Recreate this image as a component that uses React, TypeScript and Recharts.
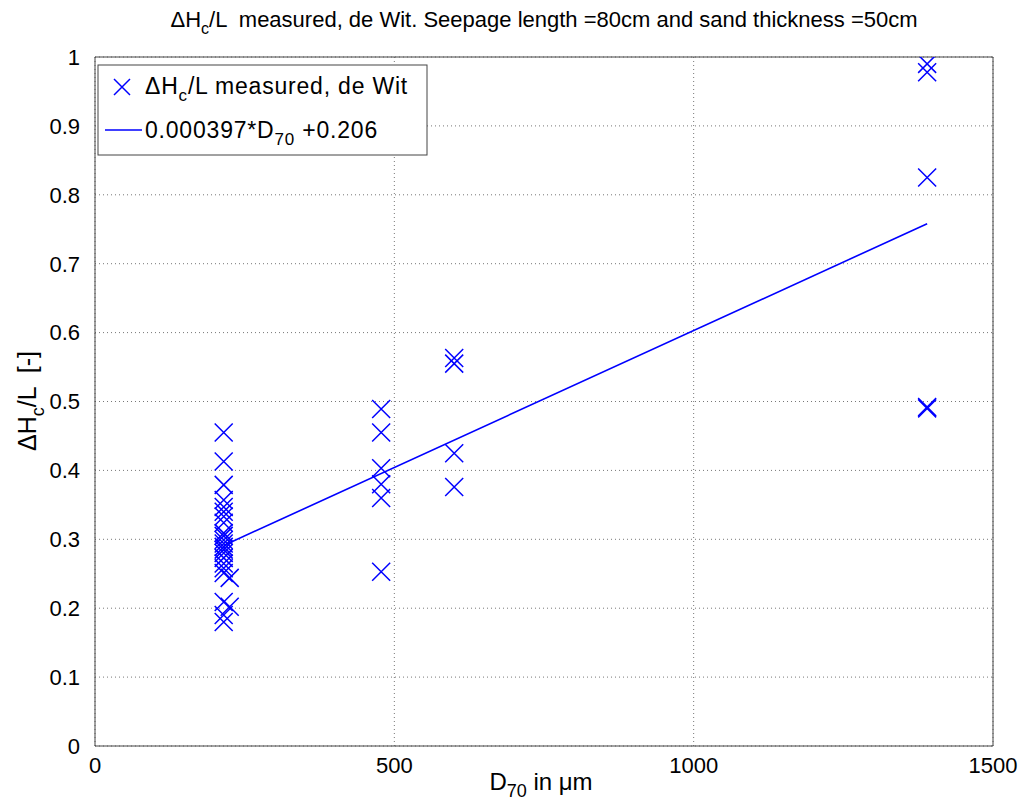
import { CartesianGrid, Scatter, ScatterChart, XAxis, YAxis } from 'recharts';

// measured critical gradients
const measuredD = [
  215, 215, 215, 215, 215, 215, 215, 215, 215, 215, 215, 215, 215, 215, 215, 215, 215, 215, 215, 215, 215, 215,
  225, 225,
  478, 478, 478, 478, 478, 478,
  600, 600, 600, 600,
  1390, 1390, 1390, 1390, 1390,
];
const measuredH = [
  0.455, 0.413, 0.379, 0.357, 0.347, 0.34, 0.333, 0.324, 0.309, 0.305, 0.299, 0.294, 0.289, 0.285, 0.28, 0.273,
  0.265, 0.258, 0.251, 0.209, 0.19, 0.18,
  0.244, 0.202,
  0.489, 0.455, 0.403, 0.38, 0.36, 0.253,
  0.563, 0.555, 0.425, 0.376,
  0.99, 0.978, 0.825, 0.492, 0.49,
];

// fitted line end points
const fitD = [215, 1390];
const fitH = [0.291, 0.758];

const xTicks = [0, 500, 1000, 1500];
const yTicks = [0, 0.1, 0.2, 0.3, 0.4, 0.5, 0.6, 0.7, 0.8, 0.9, 1];

const measured = measuredD.map((d, i) => ({ x: d, y: measuredH[i] }));
const fit = fitD.map((d, i) => ({ x: d, y: fitH[i] }));

const BLUE = '#0000ff';
const AXIS = '#444';
const FONT = '"Liberation Sans", Arial, sans-serif';

function Cross(props: any) {
  const { cx, cy } = props;
  const r = 9;
  return (
    <path
      d={`M${cx - r},${cy - r}L${cx + r},${cy + r}M${cx - r},${cy + r}L${cx + r},${cy - r}`}
      stroke={BLUE}
      strokeWidth={1.5}
      fill="none"
    />
  );
}

const tickStyle = { fontSize: 22, fill: '#000', fontFamily: FONT };

export default function App() {
  return (
    <div style={{ position: 'relative', width: 1024, height: 810 }}>
      <style>{'body{margin:0}'}</style>
      <ScatterChart width={1024} height={810} margin={{ top: 56, right: 30, left: 35, bottom: 24 }}>
        <CartesianGrid stroke="#777" strokeDasharray="1 3" />
        <XAxis
          type="number"
          dataKey="x"
          domain={[0, 1500]}
          ticks={xTicks}
          tick={tickStyle}
          tickLine={false}
          tickMargin={5}
          height={40}
          stroke={AXIS}
          allowDataOverflow
        />
        <XAxis xAxisId="top" orientation="top" type="number" domain={[0, 1500]} tick={false} tickLine={false} height={1} stroke={AXIS} />
        <YAxis
          type="number"
          dataKey="y"
          domain={[0, 1]}
          ticks={yTicks}
          tick={tickStyle}
          tickLine={false}
          tickMargin={9}
          width={60}
          stroke={AXIS}
          allowDataOverflow
        />
        <YAxis yAxisId="right" orientation="right" type="number" domain={[0, 1]} tick={false} tickLine={false} width={1} stroke={AXIS} />
        <Scatter data={measured} shape={<Cross />} isAnimationActive={false} />
        <Scatter
          data={fit}
          line={{ stroke: BLUE, strokeWidth: 1.6 }}
          shape={() => <g />}
          isAnimationActive={false}
        />
      </ScatterChart>
      <svg
        width={1024}
        height={810}
        style={{ position: 'absolute', left: 0, top: 0, pointerEvents: 'none', fontFamily: FONT }}
      >
        <text x={544} y={27} textAnchor="middle" fontSize={22} fill="#000" style={{ whiteSpace: 'pre' }}>
          ΔH<tspan dy={7} fontSize={16}>c</tspan>
          <tspan dy={-7}>/L  measured, de Wit. Seepage length =80cm and sand thickness =50cm</tspan>
        </text>
        <text x={541} y={790} textAnchor="middle" fontSize={24} fill="#000">
          D<tspan dy={7} fontSize={18}>70</tspan>
          <tspan dy={-7}> in μm</tspan>
        </text>
        <text
          x={0}
          y={0}
          transform="translate(36,401) rotate(-90)"
          textAnchor="middle"
          fontSize={25}
          fill="#000"
          style={{ whiteSpace: 'pre' }}
        >
          ΔH<tspan dy={8} fontSize={18}>c</tspan>
          <tspan dy={-8}>/L  [-]</tspan>
        </text>
        <rect x={98} y={65} width={329} height={90} fill="#fff" stroke={AXIS} strokeWidth={1} />
        <path d="M114,79L130,95M114,95L130,79" stroke={BLUE} strokeWidth={1.5} />
        <text x={145} y={94} fontSize={23} letterSpacing={0.8} fill="#000">
          ΔH<tspan dy={7} fontSize={17}>c</tspan>
          <tspan dy={-7}>/L measured, de Wit</tspan>
        </text>
        <line x1={105} y1={130} x2={142} y2={130} stroke={BLUE} strokeWidth={1.5} />
        <text x={145} y={138} fontSize={23} letterSpacing={0.8} fill="#000">
          0.000397*D<tspan dy={7} fontSize={17}>70</tspan>
          <tspan dy={-7}> +0.206</tspan>
        </text>
      </svg>
    </div>
  );
}
